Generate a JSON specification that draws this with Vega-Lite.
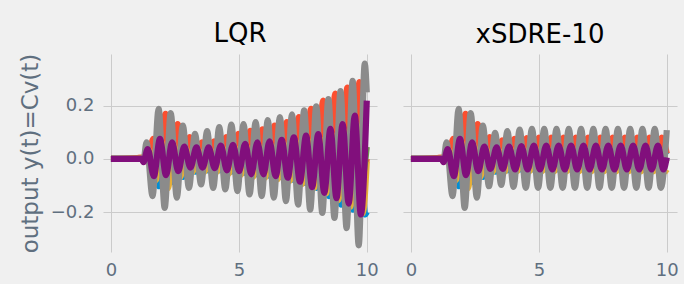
{
"$schema": "https://vega.github.io/schema/vega-lite/v6.json",
"background": "#f0f0f0",
"padding": {"left": 19, "top": 21, "right": 5, "bottom": 5},
"bounds": "flush",
"spacing": 26,
"config": {
 "view": {"stroke": null, "fill": "#f0f0f0"},
 "font": "DejaVu Sans",
 "axis": {"grid": true, "gridColor": "#cbcbcb", "gridWidth": 1, "domain": false, "ticks": false, "labelFont": "DejaVu Sans", "labelFontSize": 18, "labelColor": "#5f6f7f", "titleFont": "DejaVu Sans", "titleFontSize": 23, "titleColor": "#5f6f7f", "titleFontWeight": "normal"},
 "title": {"font": "DejaVu Sans", "fontSize": 26, "fontWeight": "normal", "color": "#000000", "offset": 6, "baseline": "alphabetic"}
},
"datasets": {
"L": [
{"s":"y1","t":0,"v":0},{"s":"y1","t":1.2,"v":0},{"s":"y1","t":1.3,"v":-0.005},{"s":"y1","t":1.643,"v":0.05},{"s":"y1","t":1.88,"v":-0.103},{"s":"y1","t":2.117,"v":0.1},{"s":"y1","t":2.354,"v":-0.088},{"s":"y1","t":2.591,"v":0.08},{"s":"y1","t":2.828,"v":-0.068},{"s":"y1","t":3.065,"v":0.05},{"s":"y1","t":3.302,"v":-0.048},{"s":"y1","t":3.539,"v":0.04},{"s":"y1","t":3.776,"v":-0.043},{"s":"y1","t":4.013,"v":0.04},{"s":"y1","t":4.25,"v":-0.043},{"s":"y1","t":4.487,"v":0.05},{"s":"y1","t":4.724,"v":-0.048},{"s":"y1","t":4.961,"v":0.055},{"s":"y1","t":5.198,"v":-0.053},{"s":"y1","t":5.435,"v":0.06},{"s":"y1","t":5.672,"v":-0.058},{"s":"y1","t":5.909,"v":0.065},{"s":"y1","t":6.146,"v":-0.063},{"s":"y1","t":6.383,"v":0.07},{"s":"y1","t":6.62,"v":-0.068},{"s":"y1","t":6.857,"v":0.075},{"s":"y1","t":7.094,"v":-0.078},{"s":"y1","t":7.331,"v":0.085},{"s":"y1","t":7.568,"v":-0.09},{"s":"y1","t":7.805,"v":0.1},{"s":"y1","t":8.042,"v":-0.109},{"s":"y1","t":8.279,"v":0.115},{"s":"y1","t":8.516,"v":-0.14},{"s":"y1","t":8.753,"v":0.13},{"s":"y1","t":8.99,"v":-0.172},{"s":"y1","t":9.227,"v":0.14},{"s":"y1","t":9.464,"v":-0.191},{"s":"y1","t":9.701,"v":0.15},{"s":"y1","t":9.938,"v":-0.209},{"s":"y1","t":10,"v":-0.2},
{"s":"y2","t":0,"v":0},{"s":"y2","t":1.0,"v":0.003},{"s":"y2","t":1.2,"v":0.005},{"s":"y2","t":1.42,"v":-0.01},{"s":"y2","t":1.66,"v":0.075},{"s":"y2","t":1.897,"v":-0.03},{"s":"y2","t":2.134,"v":0.169},{"s":"y2","t":2.371,"v":-0.06},{"s":"y2","t":2.608,"v":0.131},{"s":"y2","t":2.845,"v":-0.05},{"s":"y2","t":3.082,"v":0.082},{"s":"y2","t":3.319,"v":-0.03},{"s":"y2","t":3.556,"v":0.062},{"s":"y2","t":3.793,"v":-0.025},{"s":"y2","t":4.03,"v":0.066},{"s":"y2","t":4.267,"v":-0.03},{"s":"y2","t":4.504,"v":0.082},{"s":"y2","t":4.741,"v":-0.035},{"s":"y2","t":4.978,"v":0.094},{"s":"y2","t":5.215,"v":-0.04},{"s":"y2","t":5.452,"v":0.105},{"s":"y2","t":5.689,"v":-0.045},{"s":"y2","t":5.926,"v":0.111},{"s":"y2","t":6.163,"v":-0.045},{"s":"y2","t":6.4,"v":0.125},{"s":"y2","t":6.637,"v":-0.05},{"s":"y2","t":6.874,"v":0.138},{"s":"y2","t":7.111,"v":-0.055},{"s":"y2","t":7.348,"v":0.157},{"s":"y2","t":7.585,"v":-0.06},{"s":"y2","t":7.822,"v":0.188},{"s":"y2","t":8.059,"v":-0.07},{"s":"y2","t":8.296,"v":0.219},{"s":"y2","t":8.533,"v":-0.08},{"s":"y2","t":8.77,"v":0.245},{"s":"y2","t":9.007,"v":-0.09},{"s":"y2","t":9.244,"v":0.268},{"s":"y2","t":9.481,"v":-0.1},{"s":"y2","t":9.718,"v":0.288},{"s":"y2","t":9.955,"v":-0.02},{"s":"y2","t":10,"v":0.0},
{"s":"y3","t":0,"v":0},{"s":"y3","t":1.2,"v":0},{"s":"y3","t":1.3,"v":-0.01},{"s":"y3","t":1.51,"v":0.03},{"s":"y3","t":1.748,"v":-0.08},{"s":"y3","t":1.986,"v":0.06},{"s":"y3","t":2.224,"v":-0.11},{"s":"y3","t":2.462,"v":0.05},{"s":"y3","t":2.7,"v":-0.07},{"s":"y3","t":2.938,"v":0.037},{"s":"y3","t":3.176,"v":-0.05},{"s":"y3","t":3.414,"v":0.034},{"s":"y3","t":3.652,"v":-0.048},{"s":"y3","t":3.89,"v":0.034},{"s":"y3","t":4.128,"v":-0.05},{"s":"y3","t":4.366,"v":0.04},{"s":"y3","t":4.604,"v":-0.056},{"s":"y3","t":4.842,"v":0.042},{"s":"y3","t":5.08,"v":-0.06},{"s":"y3","t":5.318,"v":0.045},{"s":"y3","t":5.556,"v":-0.068},{"s":"y3","t":5.794,"v":0.05},{"s":"y3","t":6.032,"v":-0.07},{"s":"y3","t":6.27,"v":0.053},{"s":"y3","t":6.508,"v":-0.077},{"s":"y3","t":6.746,"v":0.057},{"s":"y3","t":6.984,"v":-0.083},{"s":"y3","t":7.222,"v":0.065},{"s":"y3","t":7.46,"v":-0.095},{"s":"y3","t":7.698,"v":0.07},{"s":"y3","t":7.936,"v":-0.11},{"s":"y3","t":8.174,"v":0.075},{"s":"y3","t":8.412,"v":-0.13},{"s":"y3","t":8.65,"v":0.09},{"s":"y3","t":8.888,"v":-0.155},{"s":"y3","t":9.126,"v":0.105},{"s":"y3","t":9.364,"v":-0.18},{"s":"y3","t":9.602,"v":0.13},{"s":"y3","t":9.84,"v":-0.205},{"s":"y3","t":10,"v":-0.01},
{"s":"y4","t":0,"v":0},{"s":"y4","t":1.2,"v":0},{"s":"y4","t":1.27,"v":-0.005},{"s":"y4","t":1.44,"v":0.017},{"s":"y4","t":1.678,"v":-0.029},{"s":"y4","t":1.916,"v":0.034},{"s":"y4","t":2.154,"v":-0.027},{"s":"y4","t":2.392,"v":0.028},{"s":"y4","t":2.63,"v":-0.021},{"s":"y4","t":2.868,"v":0.021},{"s":"y4","t":3.106,"v":-0.015},{"s":"y4","t":3.344,"v":0.019},{"s":"y4","t":3.582,"v":-0.015},{"s":"y4","t":3.82,"v":0.019},{"s":"y4","t":4.058,"v":-0.016},{"s":"y4","t":4.296,"v":0.023},{"s":"y4","t":4.534,"v":-0.019},{"s":"y4","t":4.772,"v":0.024},{"s":"y4","t":5.01,"v":-0.021},{"s":"y4","t":5.248,"v":0.025},{"s":"y4","t":5.486,"v":-0.026},{"s":"y4","t":5.724,"v":0.028},{"s":"y4","t":5.962,"v":-0.026},{"s":"y4","t":6.2,"v":0.03},{"s":"y4","t":6.438,"v":-0.029},{"s":"y4","t":6.676,"v":0.032},{"s":"y4","t":6.914,"v":-0.032},{"s":"y4","t":7.152,"v":0.036},{"s":"y4","t":7.39,"v":-0.039},{"s":"y4","t":7.628,"v":0.039},{"s":"y4","t":7.866,"v":-0.048},{"s":"y4","t":8.104,"v":0.042},{"s":"y4","t":8.342,"v":-0.058},{"s":"y4","t":8.58,"v":0.051},{"s":"y4","t":8.818,"v":-0.067},{"s":"y4","t":9.056,"v":0.059},{"s":"y4","t":9.294,"v":-0.076},{"s":"y4","t":9.532,"v":0.073},{"s":"y4","t":9.77,"v":-0.094},{"s":"y4","t":10,"v":0.045},
{"s":"y5","t":0,"v":0},{"s":"y5","t":1.2,"v":0},{"s":"y5","t":1.27,"v":-0.008},{"s":"y5","t":1.39,"v":0.062},{"s":"y5","t":1.627,"v":-0.14},{"s":"y5","t":1.864,"v":0.188},{"s":"y5","t":2.101,"v":-0.184},{"s":"y5","t":2.338,"v":0.172},{"s":"y5","t":2.575,"v":-0.146},{"s":"y5","t":2.812,"v":0.125},{"s":"y5","t":3.049,"v":-0.109},{"s":"y5","t":3.286,"v":0.094},{"s":"y5","t":3.523,"v":-0.096},{"s":"y5","t":3.76,"v":0.104},{"s":"y5","t":3.997,"v":-0.109},{"s":"y5","t":4.234,"v":0.119},{"s":"y5","t":4.471,"v":-0.115},{"s":"y5","t":4.708,"v":0.129},{"s":"y5","t":4.945,"v":-0.121},{"s":"y5","t":5.182,"v":0.131},{"s":"y5","t":5.419,"v":-0.134},{"s":"y5","t":5.656,"v":0.138},{"s":"y5","t":5.893,"v":-0.14},{"s":"y5","t":6.13,"v":0.146},{"s":"y5","t":6.367,"v":-0.146},{"s":"y5","t":6.604,"v":0.157},{"s":"y5","t":6.841,"v":-0.159},{"s":"y5","t":7.078,"v":0.167},{"s":"y5","t":7.315,"v":-0.172},{"s":"y5","t":7.552,"v":0.182},{"s":"y5","t":7.789,"v":-0.191},{"s":"y5","t":8.026,"v":0.197},{"s":"y5","t":8.263,"v":-0.203},{"s":"y5","t":8.5,"v":0.225},{"s":"y5","t":8.737,"v":-0.222},{"s":"y5","t":8.974,"v":0.255},{"s":"y5","t":9.211,"v":-0.26},{"s":"y5","t":9.448,"v":0.293},{"s":"y5","t":9.685,"v":-0.325},{"s":"y5","t":9.922,"v":0.358},{"s":"y5","t":10,"v":0.25},
{"s":"y6","t":0,"v":0},{"s":"y6","t":1.2,"v":0},{"s":"y6","t":1.27,"v":-0.012},{"s":"y6","t":1.44,"v":0.037},{"s":"y6","t":1.678,"v":-0.065},{"s":"y6","t":1.916,"v":0.075},{"s":"y6","t":2.154,"v":-0.061},{"s":"y6","t":2.392,"v":0.062},{"s":"y6","t":2.63,"v":-0.046},{"s":"y6","t":2.868,"v":0.046},{"s":"y6","t":3.106,"v":-0.033},{"s":"y6","t":3.344,"v":0.043},{"s":"y6","t":3.582,"v":-0.033},{"s":"y6","t":3.82,"v":0.043},{"s":"y6","t":4.058,"v":-0.035},{"s":"y6","t":4.296,"v":0.05},{"s":"y6","t":4.534,"v":-0.043},{"s":"y6","t":4.772,"v":0.053},{"s":"y6","t":5.01,"v":-0.046},{"s":"y6","t":5.248,"v":0.056},{"s":"y6","t":5.486,"v":-0.058},{"s":"y6","t":5.724,"v":0.062},{"s":"y6","t":5.962,"v":-0.058},{"s":"y6","t":6.2,"v":0.066},{"s":"y6","t":6.438,"v":-0.065},{"s":"y6","t":6.676,"v":0.071},{"s":"y6","t":6.914,"v":-0.071},{"s":"y6","t":7.152,"v":0.081},{"s":"y6","t":7.39,"v":-0.086},{"s":"y6","t":7.628,"v":0.087},{"s":"y6","t":7.866,"v":-0.106},{"s":"y6","t":8.104,"v":0.093},{"s":"y6","t":8.342,"v":-0.128},{"s":"y6","t":8.58,"v":0.113},{"s":"y6","t":8.818,"v":-0.148},{"s":"y6","t":9.056,"v":0.131},{"s":"y6","t":9.294,"v":-0.168},{"s":"y6","t":9.532,"v":0.163},{"s":"y6","t":9.77,"v":-0.209},{"s":"y6","t":10,"v":0.219}
],
"S": [
{"s":"y1","t":0,"v":0},{"s":"y1","t":1.2,"v":0},{"s":"y1","t":1.3,"v":-0.005},{"s":"y1","t":1.643,"v":0.05},{"s":"y1","t":1.88,"v":-0.103},{"s":"y1","t":2.117,"v":0.1},{"s":"y1","t":2.354,"v":-0.088},{"s":"y1","t":2.591,"v":0.08},{"s":"y1","t":2.828,"v":-0.068},{"s":"y1","t":3.069,"v":0.05},{"s":"y1","t":3.31,"v":-0.048},{"s":"y1","t":3.55,"v":0.04},{"s":"y1","t":3.79,"v":-0.043},{"s":"y1","t":4.03,"v":0.035},{"s":"y1","t":4.27,"v":-0.04},{"s":"y1","t":4.51,"v":0.035},{"s":"y1","t":4.75,"v":-0.04},{"s":"y1","t":4.99,"v":0.035},{"s":"y1","t":5.23,"v":-0.04},{"s":"y1","t":5.47,"v":0.035},{"s":"y1","t":5.71,"v":-0.04},{"s":"y1","t":5.95,"v":0.035},{"s":"y1","t":6.19,"v":-0.04},{"s":"y1","t":6.43,"v":0.035},{"s":"y1","t":6.67,"v":-0.04},{"s":"y1","t":6.91,"v":0.035},{"s":"y1","t":7.15,"v":-0.04},{"s":"y1","t":7.39,"v":0.035},{"s":"y1","t":7.63,"v":-0.04},{"s":"y1","t":7.87,"v":0.035},{"s":"y1","t":8.11,"v":-0.04},{"s":"y1","t":8.35,"v":0.035},{"s":"y1","t":8.59,"v":-0.04},{"s":"y1","t":8.83,"v":0.035},{"s":"y1","t":9.07,"v":-0.04},{"s":"y1","t":9.31,"v":0.035},{"s":"y1","t":9.55,"v":-0.04},{"s":"y1","t":9.79,"v":0.035},{"s":"y1","t":10,"v":0.015},
{"s":"y2","t":0,"v":0},{"s":"y2","t":1.0,"v":0.003},{"s":"y2","t":1.2,"v":0.005},{"s":"y2","t":1.42,"v":-0.01},{"s":"y2","t":1.66,"v":0.075},{"s":"y2","t":1.897,"v":-0.03},{"s":"y2","t":2.134,"v":0.169},{"s":"y2","t":2.371,"v":-0.06},{"s":"y2","t":2.608,"v":0.131},{"s":"y2","t":2.846,"v":-0.05},{"s":"y2","t":3.084,"v":0.082},{"s":"y2","t":3.323,"v":-0.03},{"s":"y2","t":3.563,"v":0.07},{"s":"y2","t":3.803,"v":-0.03},{"s":"y2","t":4.043,"v":0.075},{"s":"y2","t":4.283,"v":-0.03},{"s":"y2","t":4.523,"v":0.078},{"s":"y2","t":4.763,"v":-0.03},{"s":"y2","t":5.003,"v":0.08},{"s":"y2","t":5.243,"v":-0.03},{"s":"y2","t":5.483,"v":0.08},{"s":"y2","t":5.723,"v":-0.03},{"s":"y2","t":5.963,"v":0.08},{"s":"y2","t":6.203,"v":-0.03},{"s":"y2","t":6.443,"v":0.08},{"s":"y2","t":6.683,"v":-0.03},{"s":"y2","t":6.923,"v":0.08},{"s":"y2","t":7.163,"v":-0.03},{"s":"y2","t":7.403,"v":0.08},{"s":"y2","t":7.643,"v":-0.03},{"s":"y2","t":7.883,"v":0.08},{"s":"y2","t":8.123,"v":-0.03},{"s":"y2","t":8.363,"v":0.08},{"s":"y2","t":8.603,"v":-0.03},{"s":"y2","t":8.843,"v":0.08},{"s":"y2","t":9.083,"v":-0.03},{"s":"y2","t":9.323,"v":0.08},{"s":"y2","t":9.563,"v":-0.03},{"s":"y2","t":9.803,"v":0.08},{"s":"y2","t":10,"v":0.02},
{"s":"y3","t":0,"v":0},{"s":"y3","t":1.2,"v":0},{"s":"y3","t":1.3,"v":-0.01},{"s":"y3","t":1.51,"v":0.03},{"s":"y3","t":1.748,"v":-0.08},{"s":"y3","t":1.986,"v":0.06},{"s":"y3","t":2.224,"v":-0.11},{"s":"y3","t":2.462,"v":0.05},{"s":"y3","t":2.7,"v":-0.07},{"s":"y3","t":2.938,"v":0.037},{"s":"y3","t":3.179,"v":-0.05},{"s":"y3","t":3.42,"v":0.034},{"s":"y3","t":3.66,"v":-0.048},{"s":"y3","t":3.905,"v":0.036},{"s":"y3","t":4.145,"v":-0.047},{"s":"y3","t":4.39,"v":0.038},{"s":"y3","t":4.63,"v":-0.047},{"s":"y3","t":4.875,"v":0.038},{"s":"y3","t":5.115,"v":-0.047},{"s":"y3","t":5.36,"v":0.038},{"s":"y3","t":5.6,"v":-0.047},{"s":"y3","t":5.845,"v":0.038},{"s":"y3","t":6.085,"v":-0.047},{"s":"y3","t":6.33,"v":0.038},{"s":"y3","t":6.57,"v":-0.047},{"s":"y3","t":6.815,"v":0.038},{"s":"y3","t":7.055,"v":-0.047},{"s":"y3","t":7.3,"v":0.038},{"s":"y3","t":7.54,"v":-0.047},{"s":"y3","t":7.785,"v":0.038},{"s":"y3","t":8.025,"v":-0.047},{"s":"y3","t":8.27,"v":0.038},{"s":"y3","t":8.51,"v":-0.047},{"s":"y3","t":8.755,"v":0.038},{"s":"y3","t":8.995,"v":-0.047},{"s":"y3","t":9.24,"v":0.038},{"s":"y3","t":9.48,"v":-0.047},{"s":"y3","t":9.71,"v":0.038},{"s":"y3","t":9.94,"v":-0.047},{"s":"y3","t":10,"v":-0.04},
{"s":"y4","t":0,"v":0},{"s":"y4","t":1.2,"v":0},{"s":"y4","t":1.27,"v":-0.005},{"s":"y4","t":1.44,"v":0.017},{"s":"y4","t":1.678,"v":-0.029},{"s":"y4","t":1.916,"v":0.034},{"s":"y4","t":2.154,"v":-0.027},{"s":"y4","t":2.392,"v":0.028},{"s":"y4","t":2.63,"v":-0.021},{"s":"y4","t":2.868,"v":0.021},{"s":"y4","t":3.109,"v":-0.017},{"s":"y4","t":3.35,"v":0.019},{"s":"y4","t":3.59,"v":-0.017},{"s":"y4","t":3.835,"v":0.02},{"s":"y4","t":4.075,"v":-0.018},{"s":"y4","t":4.32,"v":0.022},{"s":"y4","t":4.56,"v":-0.018},{"s":"y4","t":4.805,"v":0.022},{"s":"y4","t":5.045,"v":-0.018},{"s":"y4","t":5.29,"v":0.022},{"s":"y4","t":5.53,"v":-0.018},{"s":"y4","t":5.775,"v":0.022},{"s":"y4","t":6.015,"v":-0.018},{"s":"y4","t":6.26,"v":0.022},{"s":"y4","t":6.5,"v":-0.018},{"s":"y4","t":6.745,"v":0.022},{"s":"y4","t":6.985,"v":-0.018},{"s":"y4","t":7.23,"v":0.022},{"s":"y4","t":7.47,"v":-0.018},{"s":"y4","t":7.715,"v":0.022},{"s":"y4","t":7.955,"v":-0.018},{"s":"y4","t":8.2,"v":0.022},{"s":"y4","t":8.44,"v":-0.018},{"s":"y4","t":8.685,"v":0.022},{"s":"y4","t":8.925,"v":-0.018},{"s":"y4","t":9.17,"v":0.022},{"s":"y4","t":9.41,"v":-0.018},{"s":"y4","t":9.655,"v":0.022},{"s":"y4","t":9.87,"v":-0.018},{"s":"y4","t":10,"v":0.0},
{"s":"y5","t":0,"v":0},{"s":"y5","t":1.2,"v":0},{"s":"y5","t":1.27,"v":-0.008},{"s":"y5","t":1.39,"v":0.062},{"s":"y5","t":1.627,"v":-0.14},{"s":"y5","t":1.864,"v":0.188},{"s":"y5","t":2.101,"v":-0.184},{"s":"y5","t":2.338,"v":0.172},{"s":"y5","t":2.575,"v":-0.146},{"s":"y5","t":2.812,"v":0.125},{"s":"y5","t":3.051,"v":-0.103},{"s":"y5","t":3.29,"v":0.098},{"s":"y5","t":3.53,"v":-0.098},{"s":"y5","t":3.77,"v":0.104},{"s":"y5","t":4.01,"v":-0.105},{"s":"y5","t":4.25,"v":0.11},{"s":"y5","t":4.49,"v":-0.109},{"s":"y5","t":4.73,"v":0.113},{"s":"y5","t":4.97,"v":-0.109},{"s":"y5","t":5.21,"v":0.113},{"s":"y5","t":5.45,"v":-0.109},{"s":"y5","t":5.69,"v":0.113},{"s":"y5","t":5.93,"v":-0.109},{"s":"y5","t":6.17,"v":0.113},{"s":"y5","t":6.41,"v":-0.109},{"s":"y5","t":6.65,"v":0.113},{"s":"y5","t":6.89,"v":-0.109},{"s":"y5","t":7.13,"v":0.113},{"s":"y5","t":7.37,"v":-0.109},{"s":"y5","t":7.61,"v":0.113},{"s":"y5","t":7.85,"v":-0.109},{"s":"y5","t":8.09,"v":0.113},{"s":"y5","t":8.33,"v":-0.109},{"s":"y5","t":8.57,"v":0.113},{"s":"y5","t":8.81,"v":-0.109},{"s":"y5","t":9.05,"v":0.113},{"s":"y5","t":9.29,"v":-0.109},{"s":"y5","t":9.53,"v":0.113},{"s":"y5","t":9.77,"v":-0.109},{"s":"y5","t":10,"v":0.108},
{"s":"y6","t":0,"v":0},{"s":"y6","t":1.2,"v":0},{"s":"y6","t":1.27,"v":-0.012},{"s":"y6","t":1.44,"v":0.037},{"s":"y6","t":1.678,"v":-0.065},{"s":"y6","t":1.916,"v":0.075},{"s":"y6","t":2.154,"v":-0.061},{"s":"y6","t":2.392,"v":0.062},{"s":"y6","t":2.63,"v":-0.046},{"s":"y6","t":2.868,"v":0.046},{"s":"y6","t":3.109,"v":-0.038},{"s":"y6","t":3.35,"v":0.043},{"s":"y6","t":3.59,"v":-0.038},{"s":"y6","t":3.835,"v":0.046},{"s":"y6","t":4.075,"v":-0.04},{"s":"y6","t":4.32,"v":0.048},{"s":"y6","t":4.56,"v":-0.04},{"s":"y6","t":4.805,"v":0.05},{"s":"y6","t":5.045,"v":-0.04},{"s":"y6","t":5.29,"v":0.05},{"s":"y6","t":5.53,"v":-0.04},{"s":"y6","t":5.775,"v":0.05},{"s":"y6","t":6.015,"v":-0.04},{"s":"y6","t":6.26,"v":0.05},{"s":"y6","t":6.5,"v":-0.04},{"s":"y6","t":6.745,"v":0.05},{"s":"y6","t":6.985,"v":-0.04},{"s":"y6","t":7.23,"v":0.05},{"s":"y6","t":7.47,"v":-0.04},{"s":"y6","t":7.715,"v":0.05},{"s":"y6","t":7.955,"v":-0.04},{"s":"y6","t":8.2,"v":0.05},{"s":"y6","t":8.44,"v":-0.04},{"s":"y6","t":8.685,"v":0.05},{"s":"y6","t":8.925,"v":-0.04},{"s":"y6","t":9.17,"v":0.05},{"s":"y6","t":9.41,"v":-0.04},{"s":"y6","t":9.655,"v":0.05},{"s":"y6","t":9.87,"v":-0.04},{"s":"y6","t":10,"v":0.005}
]
},
"hconcat": [
{
 "width": 274, "height": 198,
 "title": "LQR",
 "data": {"name": "L"},
 "mark": {"type": "line", "strokeWidth": 6.2, "interpolate": "monotone", "strokeCap": "butt", "clip": true},
 "encoding": {
  "x": {"field": "t", "type": "quantitative", "scale": {"domain": [-0.31, 10.4], "nice": false, "zero": false}, "axis": {"values": [0, 5, 10], "title": null, "labelPadding": 9, "labelFlush": false}},
  "y": {"field": "v", "type": "quantitative", "scale": {"domain": [-0.35, 0.394], "nice": false}, "axis": {"values": [-0.2, 0, 0.2], "format": ".1f", "labelExpr": "replace(datum.label, '-', '−')", "labelPadding": 9, "title": "output y(t)=Cv(t)", "titlePadding": 8}},
  "color": {"field": "s", "type": "nominal", "scale": {"domain": ["y1","y2","y3","y4","y5","y6"], "range": ["#008fd5","#fc4f30","#e5ae38","#6d904f","#8b8b8b","#810f7c"]}, "legend": null}
 }
},
{
 "width": 274, "height": 198,
 "title": "xSDRE-10",
 "data": {"name": "S"},
 "mark": {"type": "line", "strokeWidth": 6.2, "interpolate": "monotone", "strokeCap": "butt", "clip": true},
 "encoding": {
  "x": {"field": "t", "type": "quantitative", "scale": {"domain": [-0.31, 10.4], "nice": false, "zero": false}, "axis": {"values": [0, 5, 10], "title": null, "labelPadding": 9, "labelFlush": false}},
  "y": {"field": "v", "type": "quantitative", "scale": {"domain": [-0.35, 0.394], "nice": false}, "axis": {"values": [-0.2, 0, 0.2], "labels": false, "title": null}},
  "color": {"field": "s", "type": "nominal", "scale": {"domain": ["y1","y2","y3","y4","y5","y6"], "range": ["#008fd5","#fc4f30","#e5ae38","#6d904f","#8b8b8b","#810f7c"]}, "legend": null}
 }
}
]
}
